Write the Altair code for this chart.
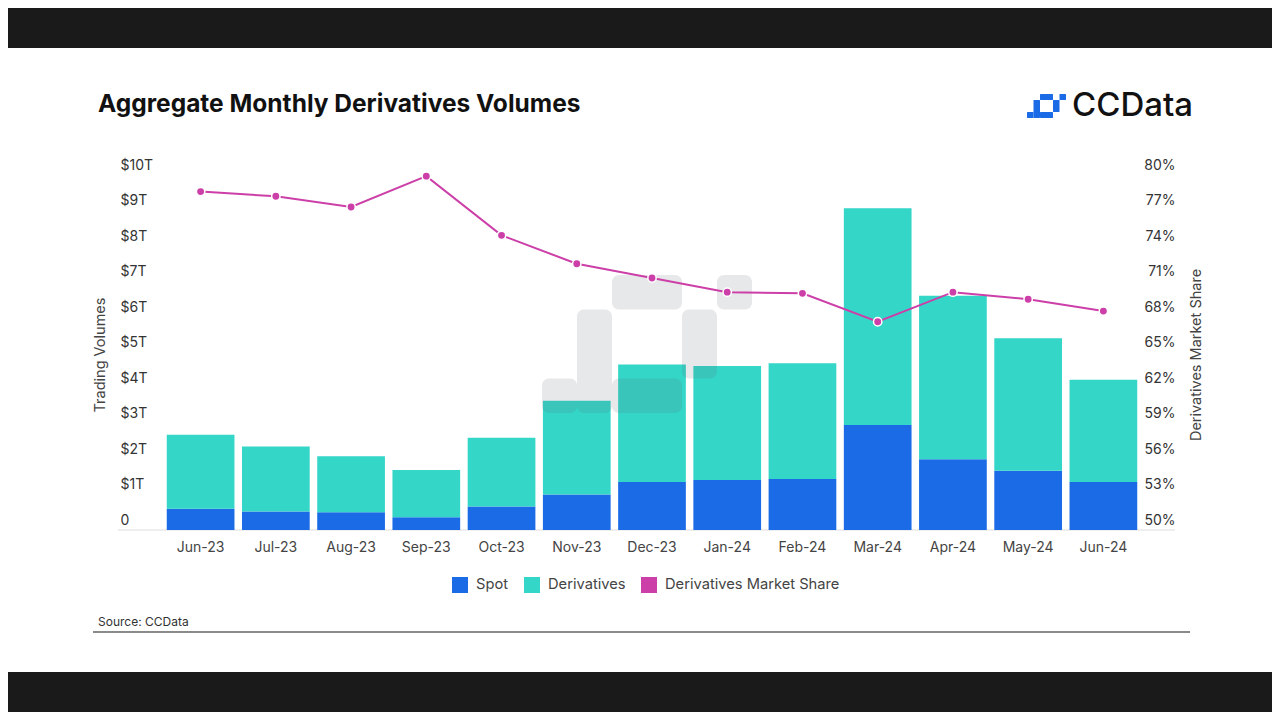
import altair as alt
import pandas as pd

# ---------------- data ----------------
months = ["Jun-23", "Jul-23", "Aug-23", "Sep-23", "Oct-23", "Nov-23", "Dec-23",
          "Jan-24", "Feb-24", "Mar-24", "Apr-24", "May-24", "Jun-24"]
spot = [0.60, 0.52, 0.50, 0.36, 0.66, 1.00, 1.35, 1.41, 1.44, 2.96, 1.99, 1.67, 1.35]
derivatives = [2.08, 1.83, 1.58, 1.33, 1.94, 2.64, 3.31, 3.21, 3.26, 6.10, 4.61, 3.73, 2.88]
market_share = [78.6, 78.2, 77.3, 79.9, 74.9, 72.5, 71.3, 70.1, 70.0, 67.6, 70.1, 69.5, 68.5]
series_names = ["Spot", "Derivatives", "Derivatives Market Share"]
left_ticks = [0, 1, 2, 3, 4, 5, 6, 7, 8, 9, 10]
right_ticks = [50, 53, 56, 59, 62, 65, 68, 71, 74, 77, 80]

# ---------------- style / layout ----------------
series_colors = ["#1b6ae6", "#33d6c7", "#cc3fa8"]
FONT = "Inter"
W, H = 978, 355
PAD = {"left": 155, "top": 167, "right": 131, "bottom": 182}
TOTAL_W = PAD["left"] + W + PAD["right"]

# logo shape blocks: (col, row, ncols, nrows)
logo_blocks = [(2, 0, 2, 1), (5, 0, 1, 1), (1, 1, 1, 3), (4, 1, 1, 2), (2, 3, 2, 1), (0, 3, 1, 1)]

bars_df = pd.DataFrame({
    "month": months * 2,
    "series": ["Spot"] * len(months) + ["Derivatives"] * len(months),
    "value": spot + derivatives,
    "order": [0] * len(months) + [1] * len(months),
})
line_df = pd.DataFrame({"month": months, "share": market_share,
                        "series": ["Derivatives Market Share"] * len(months)})
dummy = pd.DataFrame({"d": [0]})

x_enc = alt.X("month:N", sort=months,
              scale=alt.Scale(paddingInner=0.1, paddingOuter=0.05),
              axis=alt.Axis(title=None, labelAngle=0, ticks=False, domain=False, grid=False,
                            labelPadding=10, labelFontSize=14, labelColor="#444",
                            labelFont=FONT, zindex=1))

color_scale = alt.Scale(domain=series_names, range=series_colors)
legend = alt.Legend(title=None, orient="none", legendX=289, legendY=402,
                    direction="horizontal", columns=3, symbolType="square", symbolSize=256,
                    symbolStrokeWidth=0, labelFontSize=14.7, labelColor="#444", labelFont=FONT,
                    columnPadding=15, labelOffset=8, padding=0, labelLimit=400)

bg = alt.Chart(dummy).mark_rect(color="white").encode(
    x=alt.value(-PAD["left"]), x2=alt.value(TOTAL_W - PAD["left"]),
    y=alt.value(-127), y2=alt.value(497))

bars = alt.Chart(bars_df).mark_bar().encode(
    x=x_enc,
    y=alt.Y("value:Q", stack="zero", scale=alt.Scale(domain=[0, 10], nice=False),
            axis=alt.Axis(title=None, orient="left", values=left_ticks, ticks=False,
                          domain=False, grid=False, labelAlign="left", labelPadding=43,
                          labelOffset=-10, labelFontSize=14, labelColor="#333", labelFont=FONT,
                          zindex=1,
                          labelExpr="datum.value == 0 ? '0' : '$' + datum.value + 'T'")),
    color=alt.Color("series:N", scale=color_scale, legend=legend),
    order=alt.Order("order:Q"),
)

def block_layers(x0, y0, cw, ch, color, opacity, radius):
    out = []
    for c, r, nc, nr in logo_blocks:
        out.append(alt.Chart(dummy).mark_rect(color=color, opacity=opacity, cornerRadius=radius).encode(
            x=alt.value(x0 + c * cw), x2=alt.value(x0 + (c + nc) * cw),
            y=alt.value(y0 + r * ch), y2=alt.value(y0 + (r + nr) * ch)))
    return out

watermark = block_layers(542 - 163, 275 - 175, 35, 34.5, "#5b6275", 0.15, 7)
icon = block_layers(1027 - 163, 94 - 175, 6.5, 6, "#1b6ae6", 1, 0.5)

right_axis = alt.Axis(title=None, orient="right", values=right_ticks, ticks=False,
                      domain=False, grid=False, labelAlign="right", labelPadding=34,
                      labelOffset=-10, labelFontSize=14, labelColor="#333", labelFont=FONT,
                      zindex=1, labelExpr="datum.value + '%'")
share_scale = alt.Scale(domain=[50, 80], nice=False)

line = alt.Chart(line_df).mark_line(color="#cc3fa8", strokeWidth=2).encode(
    x=x_enc,
    y=alt.Y("share:Q", scale=share_scale, axis=right_axis),
)
points = alt.Chart(line_df).mark_point(filled=True, size=70, stroke="white", strokeWidth=1.5,
                                       opacity=1).encode(
    x=x_enc,
    y=alt.Y("share:Q", scale=share_scale, axis=right_axis),
    color=alt.Color("series:N", scale=color_scale, legend=legend),
)
share_layer = alt.layer(line, points)

def text_layer(txt, x, y, size, color="#333", weight="normal", angle=0, align="left"):
    return alt.Chart(dummy).mark_text(text=txt, font=FONT, fontSize=size, color=color,
                                      fontWeight=weight, angle=angle, align=align,
                                      baseline="middle").encode(
        x=alt.value(x), y=alt.value(y))

title = text_layer("Aggregate Monthly Derivatives Volumes", 98 - 163, 105 - 175, 24.5, "#111", "bold")
brand = text_layer("CCData", 1072 - 163, 106 - 175, 33, "#111", 500)
ytitle_l = text_layer("Trading Volumes", 101 - 163, 355 - 175, 14.5, "#444", angle=270, align="center")
ytitle_r = text_layer("Derivatives Market Share", 1197 - 163, 355 - 175, 14.5, "#444", angle=270, align="center")
source = text_layer("Source: CCData", 98 - 163, 622 - 175, 12, "#333")

baseline = alt.Chart(dummy).mark_rule(color="#dddddd", strokeWidth=1).encode(
    x=alt.value(118 - 163), x2=alt.value(1175 - 163), y=alt.value(H))
bottom_rule = alt.Chart(dummy).mark_rule(color="#8a8a8a", strokeWidth=2).encode(
    x=alt.value(93 - 163), x2=alt.value(1190 - 163), y=alt.value(632 - 175))

chart = alt.layer(
    bg, baseline, bars, *watermark, share_layer, *icon,
    title, brand, ytitle_l, ytitle_r, source, bottom_rule,
).resolve_scale(y="independent").properties(
    width=W, height=H,
    autosize=alt.AutoSizeParams(type="none"),
    padding=PAD,
).configure(background="#1a1a1a").configure_view(stroke=None)

chart.save("out.html", embed_options={"renderer": "svg", "actions": False})
